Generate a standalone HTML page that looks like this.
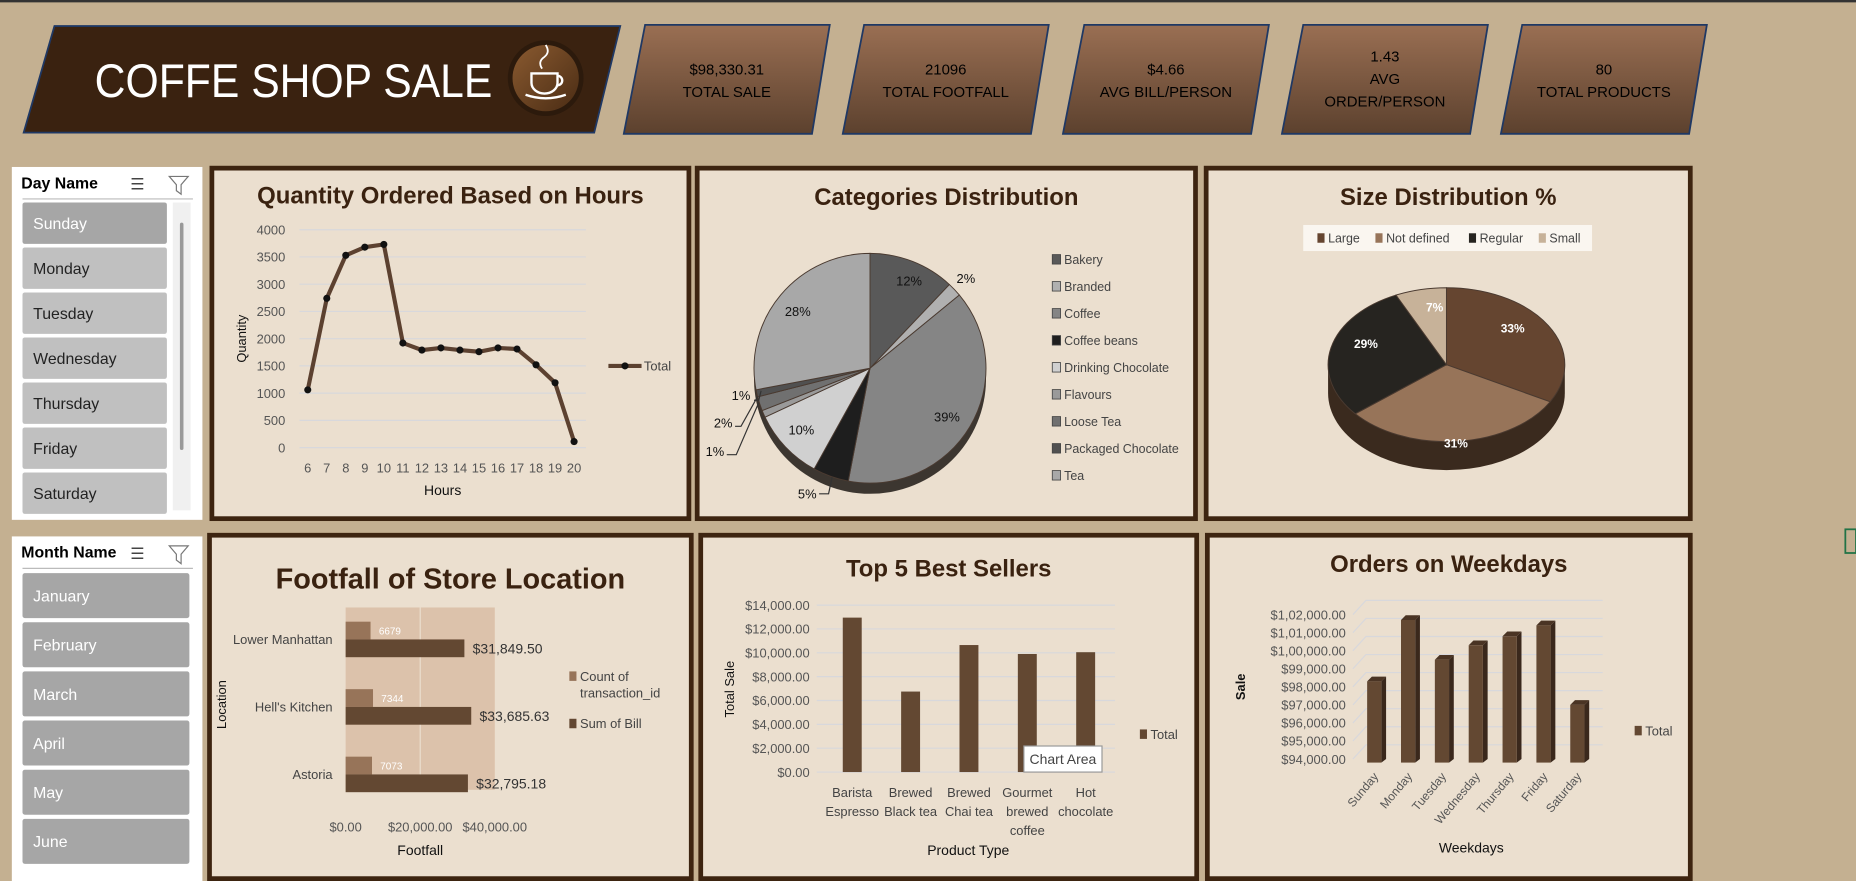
<!DOCTYPE html>
<html><head><meta charset="utf-8"><style>
html,body{margin:0;padding:0;background:#c4b091;overflow:hidden}
svg{display:block}
text{font-family:"Liberation Sans",sans-serif}
</style></head><body>
<svg id="s" width="1856" height="881" viewBox="0 0 1568 744" preserveAspectRatio="none" xmlns="http://www.w3.org/2000/svg">
<defs>
<linearGradient id="kg" x1="0" y1="0" x2="0" y2="1"><stop offset="0" stop-color="#9a6f53"/><stop offset="1" stop-color="#5c412e"/></linearGradient>
<linearGradient id="cg" x1="0" y1="0" x2="1" y2="1"><stop offset="0" stop-color="#8a5a30"/><stop offset="1" stop-color="#4a2c14"/></linearGradient>
</defs>
<rect x="0" y="0" width="1568" height="744" fill="#c4b091"/>
<rect x="0" y="0" width="1568" height="2" fill="#333"/>
<rect x="1559" y="447" width="9" height="20" fill="none" stroke="#217346" stroke-width="1.5"/>
<g>
<polygon points="46,22 524,22 502,112 20,112" fill="#3a2210" stroke="#1f3864" stroke-width="1.5"/>
<text x="80" y="82" font-size="40" fill="#fff" font-family="Liberation Serif,serif" textLength="336" lengthAdjust="spacingAndGlyphs">COFFE SHOP SALE</text>
<circle cx="461" cy="66" r="32" fill="#2c1a0c"/><circle cx="461" cy="66" r="28" fill="url(#cg)"/>
<path d="M449,62 h22 v8 a11,9 0 0 1 -22,0 z" fill="none" stroke="#fff" stroke-width="2"/>
<path d="M471,64 a4,4 0 0 1 0,8" fill="none" stroke="#fff" stroke-width="2"/>
<path d="M444,80 q17,6 34,0" fill="none" stroke="#fff" stroke-width="2"/>
<path d="M458,58 q-4,-6 2,-10 q5,-4 1,-10" fill="none" stroke="#fff" stroke-width="1.5"/>
</g>
<g id="kpis"></g>
<g id="slicers"></g>
<g id="panels"></g>
<g id="c1"></g>
<g id="c2"></g>
<g id="c3"></g>
<g id="c4"></g>
<g id="c5"></g>
<g id="c6"></g>
</svg>
<script>
// ---- data ----
const hours=[6,7,8,9,10,11,12,13,14,15,16,17,18,19,20];
const qty=[1060,2740,3530,3680,3730,1920,1790,1830,1790,1760,1830,1810,1520,1190,110];
const qtyTicks=[0,500,1000,1500,2000,2500,3000,3500,4000];
const catNames=["Bakery","Branded","Coffee","Coffee beans","Drinking Chocolate","Flavours","Loose Tea","Packaged Chocolate","Tea"];
const catPct=[12,2,39,5,10,1,2,1,28];
const sizeNames=["Large","Not defined","Regular","Small"];
const sizePct=[33,31,29,7];
const locNames=["Lower Manhattan","Hell's Kitchen","Astoria"];
const locCount=[6679,7344,7073];
const locBill=[31849.50,33685.63,32795.18];
const locTicks=[0,20000,40000];
const prodNames=[["Barista","Espresso"],["Brewed","Black tea"],["Brewed","Chai tea"],["Gourmet","brewed","coffee"],["Hot","chocolate"]];
const prodSales=[12950,6750,10650,9900,10050];
const prodTicks=[0,2000,4000,6000,8000,10000,12000,14000];
const dayNames=["Sunday","Monday","Tuesday","Wednesday","Thursday","Friday","Saturday"];
const daySales=[98300,101700,99500,100300,100800,101400,97000];
const dayTicks=[94000,95000,96000,97000,98000,99000,100000,101000,102000];
const kpiVals=[["$98,330.31","TOTAL SALE"],["21096","TOTAL FOOTFALL"],["$4.66","AVG BILL/PERSON"],["1.43","AVG","ORDER/PERSON"],["80","TOTAL PRODUCTS"]];
const months=["January","February","March","April","May","June"];

const NS="http://www.w3.org/2000/svg";
const F=0.84;
function el(p,tag,a,txt){const e=document.createElementNS(NS,tag);for(const k in a){let v=a[k];if(k=="font-size")v=(v*F).toFixed(1);e.setAttribute(k,v);}if(txt!==undefined)e.textContent=txt;p.appendChild(e);return e;}
const $=id=>document.getElementById(id);
function money(v){return "$"+v.toLocaleString("en-US",{minimumFractionDigits:2,maximumFractionDigits:2});}
function inr(v){let s=Math.round(v).toString();let last=s.slice(-3),rest=s.slice(0,-3);if(rest)rest=rest.replace(/\B(?=(\d{2})+(?!\d))/g,",")+",";return "$"+rest+last+".00";}

// KPIs
const kx=[527,712,898,1083,1268];
kpiVals.forEach((k,i)=>{const g=el($("kpis"),"g",{});


const x=kx[i];el(g,"polygon",{points:`${x+18},21 ${x+174},21 ${x+159},113 ${x},113`,fill:"url(#kg)",stroke:"#1f3864","stroke-width":1.5});
const cx=x+87;const y0=k.length==3?52:63;
k.forEach((t,j)=>el(g,"text",{x:cx,y:y0+j*19,"font-size":15,"text-anchor":"middle",fill:"#000"},t));});

// slicers
function slicer(y,h,title,items,iy,step,ih,iw,sel){const g=el($("slicers"),"g",{});


el(g,"rect",{x:10,y:y,width:161,height:h,fill:"#fff"});
el(g,"text",{x:18,y:y+18,"font-size":16,"font-weight":"bold",fill:"#000"},title);
el(g,"text",{x:110,y:y+19,"font-size":16,fill:"#444"},"☰");
el(g,"path",{d:`M143,${y+8} h16 l-6,7 v8 l-4,-3 v-5 z`,fill:"none",stroke:"#777"});
el(g,"line",{x1:19,y1:y+27,x2:163,y2:y+27,stroke:"#bbb"});
if(sel){el(g,"rect",{x:146,y:iy,width:15,height:h-(iy-y)-8,fill:"#f0f0f0"});el(g,"rect",{x:152,y:iy+17,width:3,height:192,fill:"#999",rx:1.5});}
items.forEach((t,i)=>{const it=el(g,"g",{});


const on=!sel||i==0;el(it,"rect",{x:19,y:iy+i*step,width:iw,height:ih,rx:2,fill:on?"#a6a6a6":"#c0c0c0"});
el(it,"text",{x:28,y:iy+i*step+ih/2+5,"font-size":16,fill:on?"#fff":"#222"},t);});}
slicer(141,298,"Day Name",dayNames,171,38,35,122,true);
slicer(453,291,"Month Name",months,484,41.5,38,141,false);

// panels
const P=[[177,140,407,300,"Quantity Ordered Based on Hours",165],[587,140,425,300,"Categories Distribution",166],[1017,140,413,300,"Size Distribution %",166],[175,450,411,294,"Footfall of Store Location",490],[590,450,423,294,"Top 5 Best Sellers",480],[1018,450,412,294,"Orders on Weekdays",476]];
P.forEach((p,i)=>{const g=el($("panels"),"g",{});


el(g,"rect",{x:p[0]+2,y:p[1]+2,width:p[2]-4,height:p[3]-4,fill:"#ebdfcf",stroke:"#3d2410","stroke-width":4});
el(g,"text",{x:p[0]+p[2]/2,y:p[5]+7,"font-size":i==3?29:24,"font-weight":"bold","text-anchor":"middle",fill:"#3a2210"},p[4]);});

// chart 1
(function(){const g=$("c1");const X=h=>260+(h-6)*(485-260)/14, Y=v=>378-v*(378-194)/4000;
qtyTicks.forEach(t=>{el(g,"line",{x1:253,x2:495,y1:Y(t),y2:Y(t),stroke:"#d8d8dc"});el(g,"text",{x:241,y:Y(t)+4,"font-size":13,"text-anchor":"end",fill:"#555"},t);});
hours.forEach(h=>el(g,"text",{x:X(h),y:399,"font-size":13,"text-anchor":"middle",fill:"#555"},h));
el(g,"polyline",{points:hours.map((h,i)=>X(h)+","+Y(qty[i])).join(" "),fill:"none",stroke:"#5c4130","stroke-width":3.5});
hours.forEach((h,i)=>{const c=el(g,"circle",{cx:X(h),cy:Y(qty[i]),r:3,fill:"#111"});});
el(g,"text",{x:374,y:418,"font-size":14,"text-anchor":"middle",fill:"#111"},"Hours");
el(g,"text",{x:0,y:0,"font-size":13,"text-anchor":"middle",fill:"#111",transform:"translate(208,286) rotate(-90)"},"Quantity");
el(g,"line",{x1:514,x2:542,y1:309,y2:309,stroke:"#5c4130","stroke-width":3.5});el(g,"circle",{cx:528,cy:309,r:3,fill:"#111"});
el(g,"text",{x:544,y:313,"font-size":13,fill:"#444"},"Total");})();

// pie helper
function pie(g,cx,cy,rx,ry,depth,vals,cols,sideCol){
 el(g,"path",{d:`M${cx-rx},${cy} v${depth} a${rx},${ry} 0 0 0 ${2*rx},0 v${-depth} z`,fill:sideCol});
 let a=-Math.PI/2;const tot=vals.reduce((s,v)=>s+v,0);const mids=[];
 vals.forEach((v,i)=>{const b=a+v/tot*2*Math.PI;const x1=cx+rx*Math.cos(a),y1=cy+ry*Math.sin(a),x2=cx+rx*Math.cos(b),y2=cy+ry*Math.sin(b);
 const s=el(g,"path",{d:`M${cx},${cy} L${x1},${y1} A${rx},${ry} 0 ${b-a>Math.PI?1:0} 1 ${x2},${y2} Z`,fill:cols[i],stroke:"#4a3a30","stroke-width":0.8});
 
 
 mids.push((a+b)/2);a=b;});return mids;}

// chart 2
(function(){const g=$("c2");const cols=["#595959","#b0b0b0","#858585","#1e1e1e","#d0d0d0","#9a9a9a","#707070","#505050","#a8a8a8"];
const cx=735,cy=311,rx=98,ry=97;const m=pie(g,cx,cy,rx,ry,9,catPct,cols,"#3c3630");
const lab=[[768,237],[816,235],[800,352],[682,417],[677,363],[626,334],[611,357],[604,381],[674,263]];
catPct.forEach((v,i)=>el(g,"text",{x:lab[i][0],y:lab[i][1]+4,"font-size":13,"text-anchor":"middle",fill:"#111"},v+"%"));
el(g,"polyline",{points:"692,417 700,417 703,403",fill:"none",stroke:"#333"});
el(g,"polyline",{points:"637,338 641,338 643,330",fill:"none",stroke:"#333"});
el(g,"polyline",{points:"621,360 626,360 640,335",fill:"none",stroke:"#333"});
el(g,"polyline",{points:"614,384 622,384 641,340",fill:"none",stroke:"#333"});
catNames.forEach((n,i)=>{const y=219+i*22.8;const lg=el(g,"g",{});
el(lg,"rect",{x:889,y:y-4,width:7,height:8,fill:cols[i],stroke:"#444","stroke-width":0.7});el(lg,"text",{x:899,y:y+4,"font-size":12.5,fill:"#444"},n);});})();

// chart 3
(function(){const g=$("c3");const cols=["#654530","#977459","#262420","#c7b299"];
const m=pie(g,1222,308,100,65,24,sizePct,cols,"#3a2a1e");
const lab=[[1278,277],[1230,374],[1154,290],[1212,259]];
sizePct.forEach((v,i)=>el(g,"text",{x:lab[i][0],y:lab[i][1]+4,"font-size":12,"font-weight":"bold","text-anchor":"middle",fill:"#fff"},v+"%"));
el(g,"rect",{x:1101,y:190,width:244,height:22,fill:"#faf6f0"});
const lx=[1113,1162,1241,1300];
sizeNames.forEach((n,i)=>{el(g,"rect",{x:lx[i],y:197,width:6,height:8,fill:cols[i]});el(g,"text",{x:lx[i]+9,y:205,"font-size":12.5,fill:"#444"},n);});})();

// chart 4
(function(){const g=$("c4");const X=v=>292+v*(418-292)/40000;const cy=[540,597,654];
el(g,"rect",{x:292,y:513,width:126,height:154,fill:"#dcc2ab"});
el(g,"line",{x1:X(20000),x2:X(20000),y1:513,y2:667,stroke:"#ebdfcf"});
locTicks.forEach(t=>el(g,"text",{x:X(t),y:702,"font-size":13,"text-anchor":"middle",fill:"#555"},money(t)));
locNames.forEach((n,i)=>{el(g,"text",{x:281,y:cy[i]+4,"font-size":13,"text-anchor":"end",fill:"#444"},n);
const b1=el(g,"rect",{x:292,y:cy[i]-15,width:X(locCount[i])-292,height:15,fill:"#977459"});
const b2=el(g,"rect",{x:292,y:cy[i],width:X(locBill[i])-292,height:15,fill:"#634832"});
el(g,"text",{x:X(locCount[i])+7,y:cy[i]-4,"font-size":10,fill:"#fff"},locCount[i]);
el(g,"text",{x:X(locBill[i])+7,y:cy[i]+12,"font-size":14,fill:"#333"},money(locBill[i]));});
el(g,"text",{x:355,y:722,"font-size":14,"text-anchor":"middle",fill:"#111"},"Footfall");
el(g,"text",{x:0,y:0,"font-size":13,"text-anchor":"middle",fill:"#111",transform:"translate(191,595) rotate(-90)"},"Location");
el(g,"rect",{x:481,y:567,width:6,height:8,fill:"#977459"});el(g,"text",{x:490,y:575,"font-size":13,fill:"#444"},"Count of");el(g,"text",{x:490,y:589,"font-size":13,fill:"#444"},"transaction_id");
el(g,"rect",{x:481,y:607,width:6,height:8,fill:"#634832"});el(g,"text",{x:490,y:615,"font-size":13,fill:"#444"},"Sum of Bill");})();

// chart 5
(function(){const g=$("c5");const Y=v=>652-v*(652-511)/14000;const X=i=>720+i*49.3;
prodTicks.forEach(t=>{el(g,"line",{x1:690,x2:942,y1:Y(t),y2:Y(t),stroke:"#d8d8dc"});el(g,"text",{x:684,y:Y(t)+4,"font-size":13,"text-anchor":"end",fill:"#555"},money(t));});
prodSales.forEach((v,i)=>{const b=el(g,"rect",{x:X(i)-8,y:Y(v),width:16,height:652-Y(v),fill:"#634832"});
prodNames[i].forEach((l,j)=>el(g,"text",{x:X(i),y:673+j*16,"font-size":13,"text-anchor":"middle",fill:"#444"},l));});
el(g,"text",{x:818,y:722,"font-size":14,"text-anchor":"middle",fill:"#111"},"Product Type");
el(g,"text",{x:0,y:0,"font-size":13,"text-anchor":"middle",fill:"#111",transform:"translate(620,582) rotate(-90)"},"Total Sale");
el(g,"rect",{x:963,y:616,width:6,height:8,fill:"#634832"});el(g,"text",{x:972,y:624,"font-size":13,fill:"#444"},"Total");
el(g,"rect",{x:865,y:630,width:66,height:22,fill:"#fff",stroke:"#999"});el(g,"text",{x:898,y:645,"font-size":14,"text-anchor":"middle",fill:"#444"},"Chart Area");})();

// chart 6
(function(){const g=$("c6");const Y=v=>641-(v-94000)*(641-519)/8000;const X=i=>1161+i*28.6;
dayTicks.forEach(t=>{el(g,"polyline",{points:`1143,${Y(t)} 1154,${Y(t)-12} 1354,${Y(t)-12}`,fill:"none",stroke:"#d8d8dc"});el(g,"text",{x:1137,y:Y(t)+4,"font-size":13,"text-anchor":"end",fill:"#555"},inr(t));});
daySales.forEach((v,i)=>{const x=X(i)-6,y=Y(v);const b=el(g,"g",{});
el(b,"polygon",{points:`${x+12},${y} ${x+16},${y-4} ${x+16},641 ${x+12},644`,fill:"#3a281c"});
el(b,"polygon",{points:`${x},${y} ${x+4},${y-4} ${x+16},${y-4} ${x+12},${y}`,fill:"#4a3424"});
el(b,"rect",{x:x,y:y,width:12,height:644-y,fill:"#634832"});
el(g,"text",{x:0,y:0,"font-size":12,"text-anchor":"end",fill:"#555",transform:`translate(${X(i)+4},656) rotate(-50)`},dayNames[i]);});
el(g,"text",{x:1243,y:720,"font-size":14,"text-anchor":"middle",fill:"#111"},"Weekdays");
el(g,"text",{x:0,y:0,"font-size":13,"font-weight":"bold","text-anchor":"middle",fill:"#111",transform:"translate(1052,580) rotate(-90)"},"Sale");
el(g,"rect",{x:1381,y:613,width:6,height:8,fill:"#634832"});el(g,"text",{x:1390,y:621,"font-size":13,fill:"#444"},"Total");})();
</script>
</body></html>
